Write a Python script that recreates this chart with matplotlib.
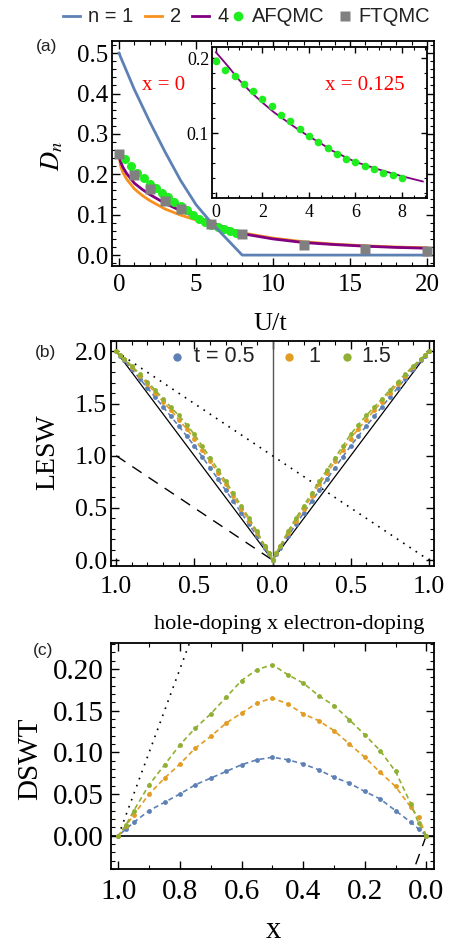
import matplotlib
matplotlib.use("Agg")
import matplotlib.pyplot as plt
from matplotlib.lines import Line2D
from matplotlib.ticker import MultipleLocator, FuncFormatter

plt.rcParams["font.family"] = "Liberation Serif"
plt.rcParams["mathtext.fontset"] = "stix"

W, H = 449, 948

# ---------- panel (a): D_n vs U/t, x = 0 ----------
u_n1 = [0, 0.5, 1, 1.5, 2, 3, 4, 5, 6, 7, 8, 20]
d_n1 = [0.5, 0.455, 0.41, 0.37, 0.33, 0.255, 0.185, 0.125, 0.08, 0.04, 0.0, 0.0]

u_n = [0, 0.1, 0.25, 0.5, 1, 1.5, 2, 3, 4, 5, 6, 8, 10, 12, 14, 16, 18, 20]
d_n2 = [0.25, 0.222, 0.205, 0.188, 0.164, 0.148, 0.135, 0.114, 0.099, 0.087, 0.078,
        0.055, 0.042, 0.033, 0.027, 0.023, 0.020, 0.018]
d_n4 = [0.25, 0.232, 0.218, 0.202, 0.178, 0.163, 0.150, 0.128, 0.110, 0.094, 0.081,
        0.053, 0.040, 0.031, 0.026, 0.022, 0.019, 0.017]

u_af = [0, 0.4, 0.8, 1.2, 1.6, 2.0, 2.4, 2.8, 3.2, 3.6, 4.0, 4.4, 4.8, 5.2, 5.6, 6.0,
        6.4, 6.8, 7.2, 7.6, 8.0]
d_af = [0.25, 0.238, 0.220, 0.204, 0.190, 0.177, 0.165, 0.154, 0.143, 0.132, 0.121,
        0.111, 0.100, 0.090, 0.081, 0.075, 0.069, 0.064, 0.059, 0.055, 0.051]

u_ft = [0, 1, 2, 3, 4, 6, 8, 12, 16, 20]
d_ft = [0.25, 0.198, 0.163, 0.134, 0.115, 0.076, 0.051, 0.025, 0.015, 0.011]

# inset, x = 0.125
u_in = [0, 0.5, 1, 1.5, 2, 2.5, 3, 3.5, 4, 4.5, 5, 6, 7, 8, 8.9]
d_in_n4 = [0.208, 0.190, 0.171, 0.155, 0.141, 0.128, 0.117, 0.106, 0.096, 0.087,
           0.077, 0.062, 0.052, 0.043, 0.036]
d_in_af = [0.196, 0.185, 0.176, 0.166, 0.156, 0.146, 0.136, 0.125, 0.116, 0.106,
           0.097, 0.088, 0.080, 0.073, 0.066, 0.062, 0.056, 0.052, 0.047, 0.044, 0.041]

# ---------- panels (b), (c): doping x ----------
x_dop = [0, 0.025, 0.05, 0.1, 0.15, 0.2, 0.25, 0.3, 0.35, 0.4, 0.45, 0.5, 0.55, 0.6,
         0.65, 0.7, 0.75, 0.8, 0.85, 0.9, 0.95, 0.975, 1.0]
t_labels = ["t = 0.5", "1", "1.5"]

lesw_t05 = [0, 0.058, 0.116, 0.230, 0.344, 0.453, 0.563, 0.670, 0.779, 0.886, 0.991,
            1.094, 1.191, 1.285, 1.377, 1.469, 1.561, 1.650, 1.740, 1.830, 1.916, 1.958, 2.0]
lesw_t1 = [0, 0.072, 0.134, 0.259, 0.376, 0.494, 0.610, 0.726, 0.838, 0.946, 1.058,
           1.165, 1.259, 1.347, 1.435, 1.519, 1.605, 1.686, 1.769, 1.850, 1.925, 1.962, 2.0]
lesw_t15 = [0, 0.065, 0.138, 0.277, 0.402, 0.521, 0.639, 0.756, 0.868, 0.983, 1.093,
            1.205, 1.299, 1.386, 1.466, 1.546, 1.629, 1.709, 1.785, 1.861, 1.930, 1.963, 2.0]

dswt_t05 = [0, 0.008, 0.016, 0.030, 0.044, 0.053, 0.063, 0.070, 0.079, 0.086, 0.091,
            0.094, 0.091, 0.085, 0.077, 0.069, 0.061, 0.050, 0.040, 0.030, 0.016, 0.008, 0]
dswt_t1 = [0, 0.022, 0.034, 0.059, 0.076, 0.094, 0.110, 0.126, 0.138, 0.146, 0.158,
           0.165, 0.159, 0.147, 0.135, 0.119, 0.105, 0.086, 0.069, 0.050, 0.025, 0.012, 0]
dswt_t15 = [0, 0.015, 0.038, 0.077, 0.102, 0.121, 0.139, 0.156, 0.168, 0.183, 0.193,
            0.205, 0.199, 0.186, 0.166, 0.146, 0.129, 0.109, 0.085, 0.061, 0.030, 0.013, 0]

# reference lines
b_solid_x, b_solid_y = [-1, 0, 1], [2, 0, 2]
b_dot_x, b_dot_y = [-1, 1], [2, 0]
b_dash_x, b_dash_y = [-1, 0], [1, 0]
c_dot_x, c_dot_y = [1, 0], [0, 1]
c_dash_x, c_dash_y = [0, 1], [0, -1]

c_blue, c_orange, c_purple = "#5E81B5", "#F8901E", "#800080"
c_lime, c_grey = "#1EEE1E", "#808080"
t_colors = ["#5E81B5", "#E19C24", "#8FB032"]


def box(l, t, r, b):
    return [l / W, 1 - b / H, (r - l) / W, (b - t) / H]


def fx(px):
    return px / W


def fy(py):
    return 1 - py / H


def frame(ax, size, xpad, ypad):
    ax.tick_params(which="both", direction="in", top=True, right=True, labelsize=size)
    ax.tick_params(which="major", length=6, width=1)
    ax.tick_params(which="minor", length=3, width=0.8)
    ax.tick_params(axis="x", pad=xpad)
    ax.tick_params(axis="y", pad=ypad)
    for s in ax.spines.values():
        s.set_linewidth(1.3)


fig = plt.figure(figsize=(W / 100, H / 100), dpi=100)

# ---- (a) ----
ax = fig.add_axes(box(112, 41, 434, 266))
ax.plot(u_n2 if False else u_n, d_n2, color=c_orange, lw=2)
ax.plot(u_n, d_n4, color=c_purple, lw=2)
ax.plot(u_af, d_af, "o", color=c_lime, ms=6.5, mec="none")
ax.plot(u_n1, d_n1, color=c_blue, lw=2)
ax.plot(u_ft, d_ft, "s", color=c_grey, ms=7, mec="none")
ax.set_xlim(-0.45, 20.45)
ax.set_ylim(-0.027, 0.53)
ax.xaxis.set_major_locator(MultipleLocator(5))
ax.xaxis.set_minor_locator(MultipleLocator(1))
ax.yaxis.set_major_locator(MultipleLocator(0.1))
ax.yaxis.set_minor_locator(MultipleLocator(0.02))
ax.yaxis.set_major_formatter(FuncFormatter(lambda v, p: f"{v:.1f}"))
frame(ax, 18, 6, 3)
ax.text(fx(164), fy(86), "x = 0", transform=fig.transFigure, color="red",
        fontsize=15, ha="center", va="center")

ins = fig.add_axes(box(212, 47, 427, 198))
ins.plot(u_in, d_in_n4, color=c_purple, lw=1.3)
ins.plot(u_af, d_in_af, "o", color=c_lime, ms=5.5, mec="none")
ins.set_xlim(-0.17, 9.08)
ins.set_ylim(0.014, 0.215)
ins.xaxis.set_major_locator(MultipleLocator(2))
ins.xaxis.set_minor_locator(MultipleLocator(0.5))
ins.yaxis.set_major_locator(MultipleLocator(0.1))
ins.yaxis.set_minor_locator(MultipleLocator(0.02))
frame(ins, 13, 4, 2)
ins.tick_params(which="major", length=4)
ins.tick_params(which="minor", length=2)
ins.text(fx(365), fy(86), "x = 0.125", transform=fig.transFigure, color="red",
         fontsize=15, ha="center", va="center")

fig.text(fx(52), fy(156), "$D_n$", fontsize=19, rotation=90, ha="center", va="center")
fig.text(fx(270), fy(324), "U/t", fontsize=19, ha="center", va="center")

# legend on top
ly = fy(16)
items = [(63, 80, c_blue, "-"), (145, 162, c_orange, "-"), (192, 209, c_purple, "-")]
for x0, x1, col, ls in items:
    fig.add_artist(Line2D([fx(x0), fx(x1)], [ly, ly], color=col, lw=2,
                          transform=fig.transFigure))
fig.add_artist(Line2D([fx(238)], [ly], marker="o", color=c_lime, ms=7, mec="none",
                      transform=fig.transFigure))
fig.add_artist(Line2D([fx(345)], [ly], marker="s", color=c_grey, ms=7, mec="none",
                      transform=fig.transFigure))
for xp, s in [(88, "n = 1"), (170, "2"), (218, "4"), (252, "AFQMC"), (358, "FTQMC")]:
    fig.text(fx(xp), ly, s, family="Liberation Sans", fontsize=14.5, ha="left",
             va="center", color="#222222")

# ---- (b) ----
axb = fig.add_axes(box(111, 341, 434, 566))
axb.axvline(0, color="#555555", lw=1)
axb.plot(b_solid_x, b_solid_y, color="black", lw=0.9)
axb.plot(b_dot_x, b_dot_y, color="black", lw=1.2, ls=(0, (1, 3.5)))
axb.plot(b_dash_x, b_dash_y, color="black", lw=1, ls=(0, (8, 6)))
for vals, col in zip([lesw_t05, lesw_t1, lesw_t15], t_colors):
    axb.plot([-v for v in x_dop], vals, color=col, lw=1.2, ls=(0, (3, 2)),
             marker="o", ms=3.5, mec="none")
    axb.plot(x_dop, vals, color=col, lw=1.2, ls=(0, (3, 2)),
             marker="o", ms=3.5, mec="none")
axb.set_xlim(-1.033, 1.033)
axb.set_ylim(-0.057, 2.1)
axb.xaxis.set_major_locator(MultipleLocator(0.5))
axb.xaxis.set_minor_locator(MultipleLocator(0.1))
axb.yaxis.set_major_locator(MultipleLocator(0.5))
axb.yaxis.set_minor_locator(MultipleLocator(0.1))
axb.xaxis.set_major_formatter(FuncFormatter(lambda v, p: f"{abs(v):.1f}"))
frame(axb, 18.5, 7, 3)

leg_y = (566 - 357) / 225
for (dx, tx), lab, col in zip([(0.204, 0.258), (0.551, 0.611), (0.731, 0.775)],
                              t_labels, t_colors):
    axb.plot([dx], [leg_y], "o", color=col, ms=6, mec="none", transform=axb.transAxes)
    axb.text(tx, leg_y, lab, transform=axb.transAxes, family="Liberation Sans",
             fontsize=15.5, ha="left", va="center", color="#222222")

fig.text(fx(48), fy(452), "LESW", fontsize=20, rotation=90, ha="center", va="center")
fig.text(fx(289), fy(624), "hole-doping x electron-doping", fontsize=16,
         ha="center", va="center")

# ---- (c) ----
axc = fig.add_axes(box(111, 643, 434, 869))
axc.axhline(0, color="black", lw=1.2)
axc.plot(c_dot_x, c_dot_y, color="black", lw=1.2, ls=(0, (1, 3.5)))
axc.plot(c_dash_x, c_dash_y, color="black", lw=1, ls=(0, (8, 6)))
for vals, col in zip([dswt_t05, dswt_t1, dswt_t15], t_colors):
    axc.plot(x_dop, vals, color=col, lw=1.2, ls=(0, (3, 2)),
             marker="o", ms=3.5, mec="none")
axc.set_xlim(1.024, -0.025)
axc.set_ylim(-0.04, 0.231)
axc.xaxis.set_major_locator(MultipleLocator(0.2))
axc.xaxis.set_minor_locator(MultipleLocator(0.1))
axc.yaxis.set_major_locator(MultipleLocator(0.05))
axc.yaxis.set_minor_locator(MultipleLocator(0.01))
axc.yaxis.set_major_formatter(FuncFormatter(lambda v, p: f"{v:.2f}"))
frame(axc, 21, 7, 5)

fig.text(fx(30), fy(759), "DSWT", fontsize=21, rotation=90, ha="center", va="center")
fig.text(fx(273), fy(931), "x", fontsize=22, ha="center", va="center")

for lab, xp, yp in [("(a)", 47, 46), ("(b)", 46, 353), ("(c)", 43, 650)]:
    fig.text(fx(xp), fy(yp), lab, family="Liberation Sans", fontsize=12.5,
             ha="center", va="center", color="#222222")

fig.savefig("out.png", dpi=100)
